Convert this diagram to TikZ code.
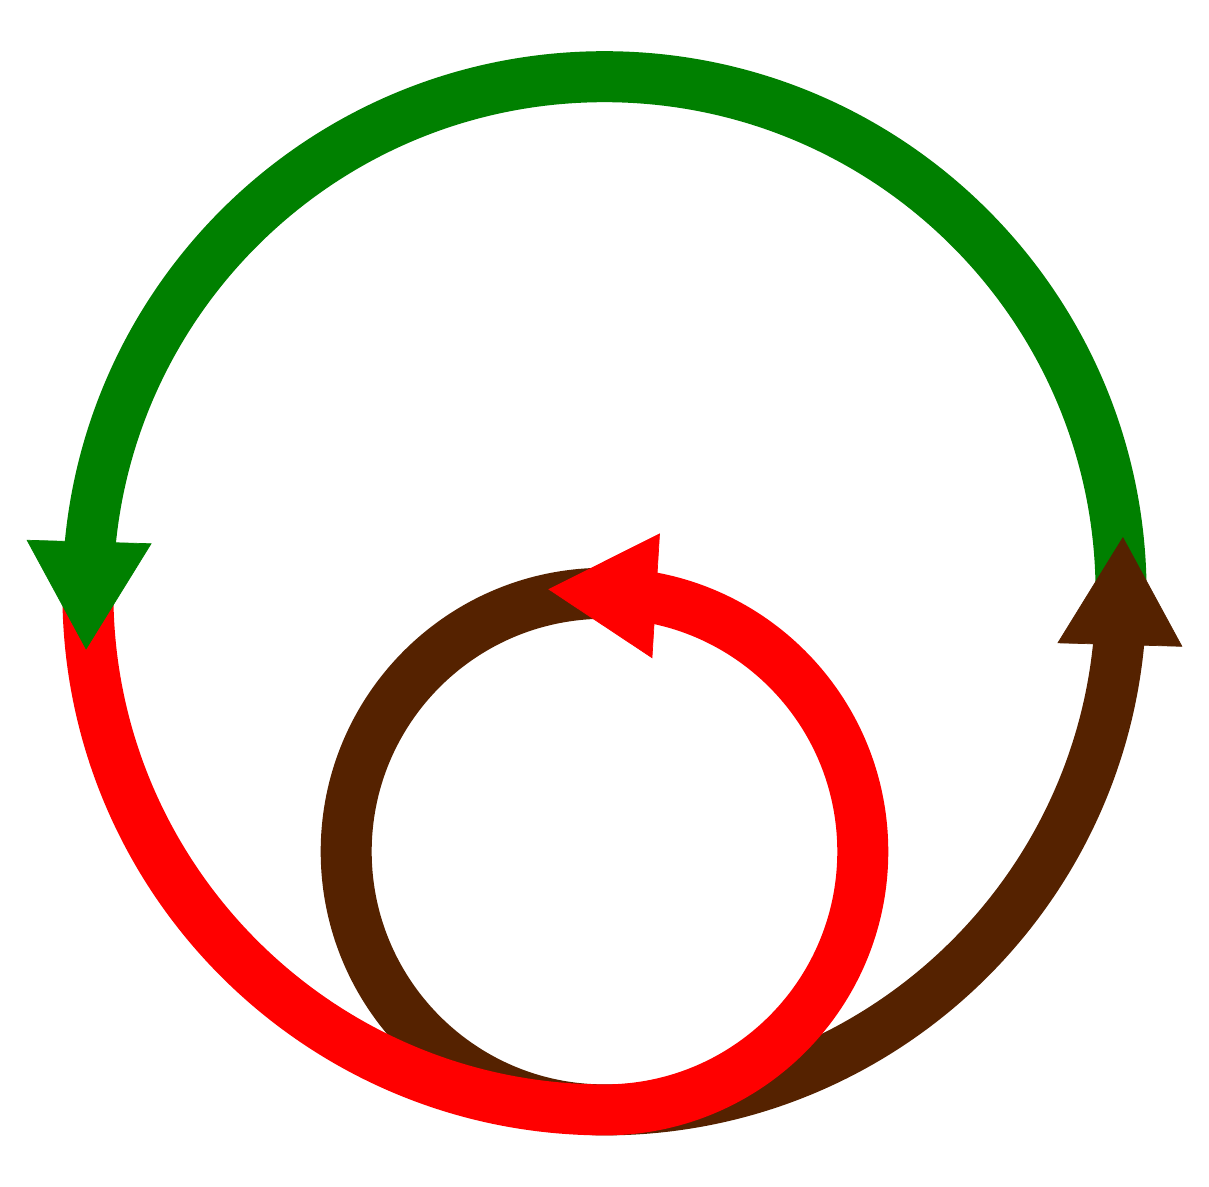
\documentclass[tikz,border=0pt]{standalone}
\usepackage{tikz}
\usetikzlibrary{arrows.meta}

\definecolor{loopbrown}{RGB}{85,34,0}
\definecolor{loopgreen}{RGB}{0,128,0}
\definecolor{loopred}{RGB}{255,0,0}

\begin{document}
\begin{tikzpicture}[
  band/.style={line width=0.51cm},
  head/.style={line width=0.2pt, -{Triangle[length=1.08cm, width=1.25cm]}}
]
\useasboundingbox (-6.045,-5.937) rectangle (6.045,5.933);

% Anfangspunkte der Baender
\coordinate (O) at (0,0);
\coordinate (W) at (-5.166,0);
\coordinate (E) at (5.166,0);

% Baender (braun unten, rot darueber, gruen oben)
\draw[band, loopbrown] (O) arc[start angle=90, end angle=270, radius=2.583]
  arc[start angle=270, end angle=360, radius=5.166];
\draw[band, loopred] (W) arc[start angle=180, end angle=270, radius=5.166]
  arc[start angle=270, end angle=450, radius=2.583];
\draw[band, loopgreen] (E) arc[start angle=0, end angle=180, radius=5.166];

% Pfeilspitzen zuletzt
\coordinate (gb) at (174.3:5.18);
\coordinate (gt) at (186.2:5.215);
\coordinate (bb) at (-5.7:5.18);
\coordinate (bt) at (6.2:5.215);
\coordinate (rb) at (0.508,-0.025);
\coordinate (rt) at (-0.562,0.04);

\draw[head, loopgreen] (gb) -- (gt);
\draw[head, loopbrown] (bb) -- (bt);
\draw[head, loopred] (rb) -- (rt);

\end{tikzpicture}
\end{document}
